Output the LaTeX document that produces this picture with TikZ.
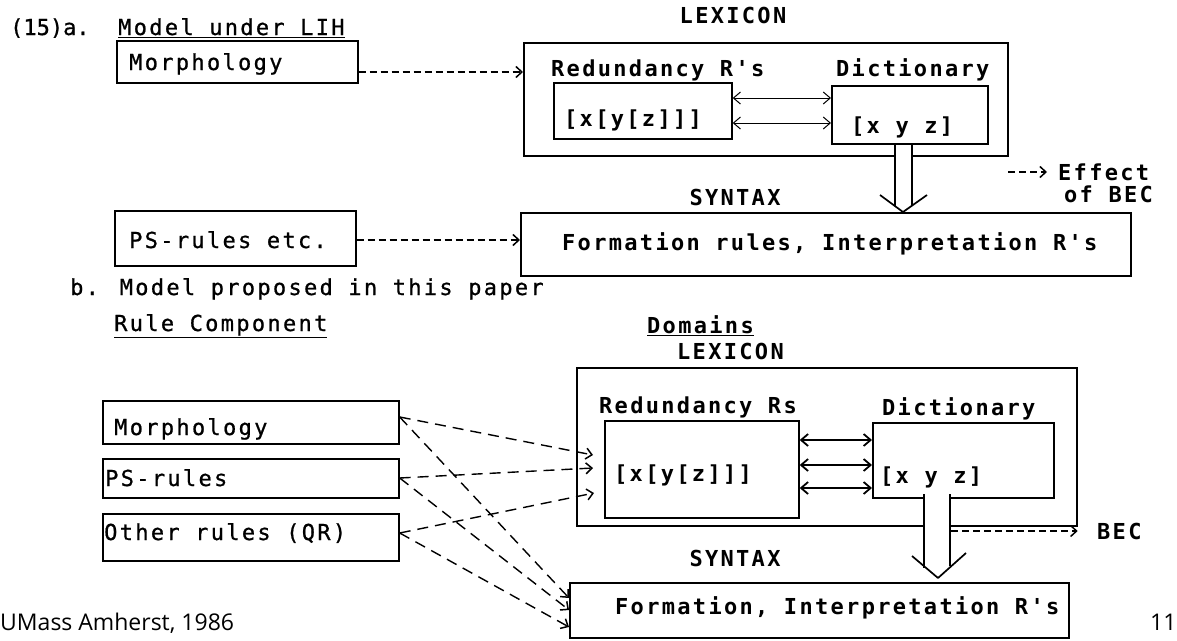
\documentclass[tikz,border=0pt]{standalone}
\usepackage{fontspec}
\usetikzlibrary{arrows.meta,calc}
\newfontfamily\tw[LetterSpace=10.5,FakeBold=0.8]{DejaVu Sans Mono}
\newfontfamily\twb[LetterSpace=10.5]{DejaVu Sans Mono Bold}
\newfontfamily\twn[FakeBold=0.8]{DejaVu Sans Mono}
\newfontfamily\footfont{Open Sans}
\begin{document}
\begin{tikzpicture}[x=1pt,y=-1pt,
  box/.style={draw, line width=1.7pt, inner sep=0pt, anchor=north west},
  lbl/.style={anchor=base west, inner sep=0pt, font={\tw\fontsize{22}{26}\selectfont}},
  blbl/.style={anchor=base west, inner sep=0pt, font={\twb\fontsize{22}{26}\selectfont}},
  clbl/.style={anchor=base, inner sep=0pt, font={\twb\fontsize{22}{26}\selectfont}},
  dsh/.style={line width=1.5pt, dash pattern=on 7pt off 4pt},
  ldsh/.style={line width=1.4pt, dash pattern=on 11pt off 7pt},
  tip/.style={-{Straight Barb[length=6pt,width=11pt,line width=1.5pt]}},
  dbl/.style={{Straight Barb[length=7pt,width=12pt]}-{Straight Barb[length=7pt,width=12pt]}},
  hollow/.style={line width=1.7pt}
]
\useasboundingbox (0,0) rectangle (1177,640);
\fill[white] (0,0) rectangle (1177,640);

% ---------- part a ----------
\node[anchor=base west, inner sep=0pt, font={\twn\fontsize{22}{26}\selectfont}] (t15) at (10,35) {(15)a.};
\node[lbl] (ta) at (118,35) {\underline{Model under LIH}};
\node[box, minimum width=241pt, minimum height=42pt] (morphA) at (116,40) {};
\node[lbl] (morphAt) at (129,70) {Morphology};

\node[clbl] (lexAt) at (733,23) {LEXICON};
\node[box, minimum width=484pt, minimum height=113pt] (lexA) at (523,42) {};
\node[blbl] (redAt) at (551,76) {Redundancy R's};
\node[box, minimum width=178pt, minimum height=56pt] (redA) at (553,82) {};
\node[blbl] (redAx) at (564,126) {[x[y[z]]]};
\node[blbl] (dictAt) at (836,76) {Dictionary};
\node[box, minimum width=156pt, minimum height=58pt] (dictA) at (831,85) {};
\node[blbl] (dictAx) at (851,133) {[x y z]};

\draw[dsh, tip] (morphA.east |- 0,72) -- (lexA.west |- 0,72);
\draw[line width=1pt, dbl] (redA.east |- 0,98) -- (dictA.west |- 0,98);
\draw[line width=1pt, dbl] (redA.east |- 0,123) -- (dictA.west |- 0,123);

\node[clbl] (synAt) at (735,205) {SYNTAX};
\node[box, minimum width=610pt, minimum height=63pt] (synA) at (520,212) {};
\node[blbl] (synAx) at (562,250) {Formation rules, Interpretation R's};

% hollow arrow a
\fill[white] (896,0 |- dictA.south) rectangle (911,204);
\draw[hollow] (895,0 |- dictA.south) -- (895,206);
\draw[hollow] (912,0 |- dictA.south) -- (912,205);
\draw[hollow, line join=round] (880,195) -- (903,0 |- synA.north) -- (927,195);

\coordinate (effS) at (1008,172);
\coordinate (effE) at (1047,172);
\draw[dsh, tip] (effS) -- (effE);
\node[blbl] (eff1) at (1058,180) {Effect};
\node[blbl] (eff2) at (1064,202) {of BEC};

\node[box, minimum width=241pt, minimum height=55pt] (psA) at (114,210) {};
\node[lbl] (psAt) at (129,248) {PS-rules etc.};
\draw[dsh, tip] (psA.east |- 0,240) -- (synA.west |- 0,240);

% ---------- part b ----------
\node[lbl] (tb) at (70,295) {b. Model proposed in this paper};
\node[lbl] (rc) at (114,331) {\underline{Rule Component}};
\node[blbl] (dom) at (647,333) {\underline{Domains}};
\node[blbl] (lexBt) at (677,359) {LEXICON};

\node[box, minimum width=296pt, minimum height=43pt] (morphB) at (102,400) {};
\node[lbl] (morphBt) at (114,435) {Morphology};
\node[box, minimum width=296pt, minimum height=39pt] (psB) at (102,458) {};
\node[lbl] (psBt) at (105,486) {PS-rules};
\node[box, minimum width=296pt, minimum height=47pt] (otherB) at (102,513) {};
\node[lbl] (otherBt) at (104,540) {Other rules (QR)};

\node[box, minimum width=500pt, minimum height=158pt] (lexB) at (576,367) {};
\node[blbl] (redBt) at (599,413) {Redundancy Rs};
\node[box, minimum width=194pt, minimum height=97pt] (redB) at (604,420) {};
\node[blbl] (redBx) at (614,481) {[x[y[z]]]};
\node[blbl] (dictBt) at (882,415) {Dictionary};
\node[box, minimum width=181pt, minimum height=75pt] (dictB) at (872,422) {};
\node[blbl] (dictBx) at (880,483) {[x y z]};

\draw[line width=1.8pt, dbl] (redB.east |- 0,440) -- (dictB.west |- 0,440);
\draw[line width=1.8pt, dbl] (redB.east |- 0,465) -- (dictB.west |- 0,465);
\draw[line width=1.8pt, dbl] (redB.east |- 0,488) -- (dictB.west |- 0,488);

\node[clbl] (synBt) at (735,566) {SYNTAX};
\node[box, minimum width=499pt, minimum height=55pt] (synB) at (569,582) {};
\node[blbl] (synBx) at (615,614) {Formation, Interpretation R's};

% hollow arrow b
\fill[white] (925,496) rectangle (949,566);
\draw[hollow] (924,494) -- (924,568);
\draw[hollow] (950,494) -- (950,566);
\draw[hollow, line join=round] (912,556) -- (938,578) -- (966,553);

\draw[dsh, tip] (951,531) -- (lexB.south east |- 0,531);
\node[blbl] (bec) at (1097,539) {BEC};

% dashed connectors from rule component
\coordinate (m0) at (morphB.east |- 0,417);
\coordinate (p0) at (psB.east |- 0,478);
\coordinate (o0) at (otherB.east |- 0,533);
\coordinate (l1) at (593,455);
\coordinate (l2) at (593,468);
\coordinate (l3) at (594,493);
\draw[ldsh, tip] (m0) -- (l1);
\draw[ldsh, tip] (p0) -- (l2);
\draw[ldsh, tip] (o0) -- (l3);
\draw[ldsh, tip] (m0) -- (synB.west |- 0,598);
\draw[ldsh, tip] (p0) -- (synB.west |- 0,610);
\draw[ldsh, tip] (o0) -- (synB.west |- 0,627);

% footer
\node[anchor=base west, inner sep=0pt, font={\footfont\fontsize{23}{26}\selectfont}] (foot) at (0,630) {UMass Amherst, 1986};
\node[anchor=base west, inner sep=0pt, font={\footfont\fontsize{23}{26}\selectfont}] (pg) at (1150,630) {11};
\end{tikzpicture}
\end{document}
